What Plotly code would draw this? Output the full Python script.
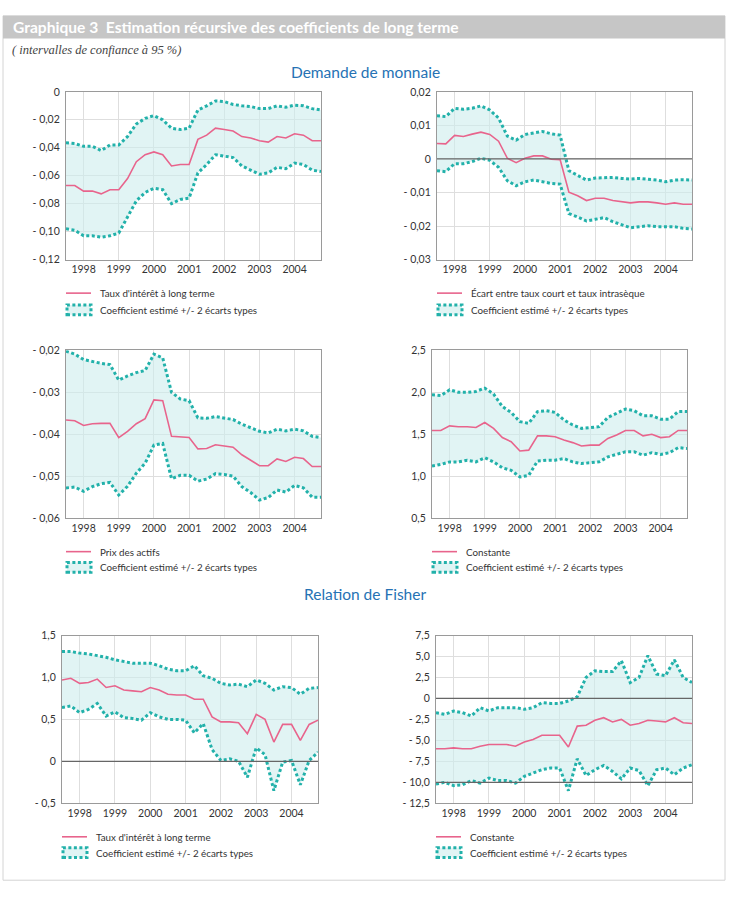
import plotly.graph_objects as go

W, H = 732, 902

QUARTERS = [1997.50, 1997.75, 1998.00, 1998.25, 1998.50, 1998.75, 1999.00, 1999.25,
            1999.50, 1999.75, 2000.00, 2000.25, 2000.50, 2000.75, 2001.00, 2001.25,
            2001.50, 2001.75, 2002.00, 2002.25, 2002.50, 2002.75, 2003.00, 2003.25,
            2003.50, 2003.75, 2004.00, 2004.25, 2004.50, 2004.75]
YEARS = [1998, 1999, 2000, 2001, 2002, 2003, 2004]

# Panel 1 : Taux d'intérêt à long terme (demande de monnaie)
p1_coef = [-0.067, -0.067, -0.071, -0.071, -0.073, -0.070, -0.070, -0.062, -0.050, -0.045,
           -0.043, -0.045, -0.053, -0.052, -0.052, -0.034, -0.031, -0.026, -0.027, -0.028,
           -0.032, -0.033, -0.035, -0.036, -0.032, -0.033, -0.030, -0.031, -0.035, -0.035]
p1_up = [-0.0365, -0.037, -0.039, -0.039, -0.042, -0.038, -0.038, -0.032, -0.023, -0.019,
         -0.017, -0.020, -0.026, -0.027, -0.026, -0.013, -0.010, -0.0065, -0.007, -0.009,
         -0.010, -0.0105, -0.012, -0.012, -0.010, -0.011, -0.0095, -0.010, -0.012, -0.013]
p1_lo = [-0.098, -0.099, -0.103, -0.103, -0.104, -0.103, -0.101, -0.089, -0.078, -0.072,
         -0.069, -0.070, -0.080, -0.077, -0.076, -0.058, -0.052, -0.045, -0.046, -0.047,
         -0.053, -0.056, -0.059, -0.058, -0.054, -0.055, -0.051, -0.052, -0.056, -0.057]

# Panel 2 : Écart entre taux court et taux intrasèque
p2_coef = [0.0046, 0.0045, 0.0070, 0.0067, 0.0074, 0.0080, 0.0073, 0.0053, 0.0002, -0.0011,
           0.0002, 0.0009, 0.0009, -0.0001, -0.0002, -0.0099, -0.0110, -0.0124, -0.0117, -0.0117,
           -0.0124, -0.0128, -0.0131, -0.0128, -0.0128, -0.0131, -0.0135, -0.0131, -0.0135, -0.0135]
p2_up = [0.0129, 0.0126, 0.0151, 0.0148, 0.0151, 0.0158, 0.0146, 0.0122, 0.0068, 0.0056,
         0.0073, 0.0077, 0.0082, 0.0075, 0.0071, -0.0035, -0.0050, -0.0063, -0.0057, -0.0055,
         -0.0055, -0.0058, -0.0060, -0.0058, -0.0060, -0.0063, -0.0068, -0.0063, -0.0062, -0.0063]
p2_lo = [-0.0035, -0.0038, -0.0014, -0.0014, -0.0008, 0.0002, -0.0004, -0.0025, -0.0065, -0.0080,
         -0.0068, -0.0063, -0.0068, -0.0073, -0.0075, -0.0163, -0.0173, -0.0185, -0.0180, -0.0175,
         -0.0187, -0.0197, -0.0205, -0.0202, -0.0199, -0.0202, -0.0202, -0.0202, -0.0207, -0.0209]

# Panel 3 : Prix des actifs
p3_coef = [-0.0366, -0.0368, -0.0379, -0.0375, -0.0374, -0.0374, -0.0408, -0.0393, -0.0375, -0.0363,
           -0.0318, -0.0320, -0.0405, -0.0407, -0.0408, -0.0435, -0.0434, -0.0425, -0.0428, -0.0431,
           -0.0449, -0.0461, -0.0475, -0.0475, -0.0459, -0.0465, -0.0455, -0.0458, -0.0477, -0.0477]
p3_up = [-0.0202, -0.0209, -0.0222, -0.0227, -0.0231, -0.0234, -0.0271, -0.0261, -0.0253, -0.0248,
         -0.0209, -0.0218, -0.0300, -0.0316, -0.0320, -0.0361, -0.0362, -0.0358, -0.0361, -0.0365,
         -0.0376, -0.0384, -0.0393, -0.0397, -0.0388, -0.0392, -0.0388, -0.0392, -0.0405, -0.0408]
p3_lo = [-0.0528, -0.0526, -0.0536, -0.0525, -0.0518, -0.0515, -0.0545, -0.0524, -0.0493, -0.0469,
         -0.0426, -0.0422, -0.0506, -0.0498, -0.0498, -0.0512, -0.0507, -0.0494, -0.0496, -0.0500,
         -0.0525, -0.0539, -0.0557, -0.0551, -0.0533, -0.0538, -0.0522, -0.0528, -0.0550, -0.0550]

# Panel 4 : Constante (demande de monnaie)
p4_coef = [1.545, 1.545, 1.60, 1.59, 1.59, 1.58, 1.64, 1.57, 1.46, 1.41,
           1.30, 1.31, 1.48, 1.48, 1.47, 1.43, 1.40, 1.36, 1.37, 1.37,
           1.45, 1.49, 1.545, 1.545, 1.48, 1.50, 1.46, 1.47, 1.545, 1.545]
p4_up = [1.97, 1.96, 2.03, 2.00, 2.00, 2.01, 2.05, 1.98, 1.83, 1.76,
         1.65, 1.63, 1.77, 1.78, 1.76, 1.67, 1.61, 1.57, 1.58, 1.59,
         1.70, 1.75, 1.80, 1.78, 1.72, 1.72, 1.68, 1.68, 1.77, 1.77]
p4_lo = [1.12, 1.14, 1.17, 1.17, 1.19, 1.17, 1.22, 1.17, 1.10, 1.07,
         0.99, 1.01, 1.18, 1.19, 1.19, 1.21, 1.17, 1.15, 1.16, 1.17,
         1.23, 1.26, 1.29, 1.29, 1.25, 1.28, 1.26, 1.28, 1.34, 1.33]

# Panel 5 : Taux d'intérêt à long terme (relation de Fisher)
p5_coef = [0.97, 0.99, 0.93, 0.94, 0.98, 0.88, 0.90, 0.85, 0.84, 0.83,
           0.88, 0.85, 0.80, 0.79, 0.79, 0.74, 0.74, 0.53, 0.47, 0.47,
           0.46, 0.33, 0.56, 0.50, 0.23, 0.44, 0.44, 0.25, 0.44, 0.49]
p5_up = [1.31, 1.31, 1.29, 1.28, 1.26, 1.24, 1.21, 1.19, 1.17, 1.17,
         1.17, 1.14, 1.10, 1.08, 1.08, 1.14, 1.02, 0.99, 0.93, 0.91,
         0.92, 0.89, 0.97, 0.93, 0.85, 0.89, 0.88, 0.80, 0.87, 0.88]
p5_lo = [0.64, 0.66, 0.58, 0.62, 0.69, 0.54, 0.59, 0.52, 0.51, 0.49,
         0.58, 0.53, 0.50, 0.50, 0.49, 0.34, 0.45, 0.14, 0.01, 0.03,
         0.00, -0.19, 0.16, 0.08, -0.35, -0.01, 0.01, -0.28, 0.01, 0.11]

# Panel 6 : Constante (relation de Fisher)
p6_coef = [-6.0, -6.0, -5.9, -6.0, -6.0, -5.7, -5.5, -5.5, -5.5, -5.7,
           -5.2, -4.9, -4.4, -4.4, -4.4, -5.8, -3.3, -3.2, -2.6, -2.3,
           -2.8, -2.5, -3.2, -3.0, -2.6, -2.7, -2.8, -2.3, -2.9, -3.0]
p6_up = [-1.7, -1.9, -1.5, -1.7, -2.1, -1.1, -1.5, -1.1, -1.1, -1.1,
         -1.3, -1.1, -0.5, -0.6, -0.6, -0.3, 0.2, 2.5, 3.3, 3.2,
         3.2, 4.5, 1.9, 2.5, 5.1, 2.9, 2.7, 4.6, 2.5, 1.9]
p6_lo = [-10.2, -10.0, -10.4, -10.3, -9.8, -10.1, -9.5, -9.8, -9.8, -10.1,
         -9.3, -8.9, -8.5, -8.3, -8.3, -11.0, -7.2, -9.2, -8.5, -8.0,
         -8.7, -9.6, -8.3, -8.6, -10.4, -8.5, -8.3, -9.1, -8.3, -7.9]

LEGEND_COEF = ["Taux d'intérêt à long terme", "Écart entre taux court et taux intrasèque",
               "Prix des actifs", "Constante", "Taux d'intérêt à long terme", "Constante"]
LEGEND_BAND = "Coefficient estimé +/- 2 écarts types"

Y_TICKS = [
    ([0, -0.02, -0.04, -0.06, -0.08, -0.10, -0.12],
     ["0", "- 0,02", "- 0,04", "- 0,06", "- 0,08", "- 0,10", "- 0,12"]),
    ([0.02, 0.01, 0, -0.01, -0.02, -0.03],
     ["0,02", "0,01", "0", "- 0,01", "- 0,02", "- 0,03"]),
    ([-0.02, -0.03, -0.04, -0.05, -0.06],
     ["- 0,02", "- 0,03", "- 0,04", "- 0,05", "- 0,06"]),
    ([2.5, 2.0, 1.5, 1.0, 0.5], ["2,5", "2,0", "1,5", "1,0", "0,5"]),
    ([1.5, 1.0, 0.5, 0, -0.5], ["1,5", "1,0", "0,5", "0", "- 0,5"]),
    ([7.5, 5.0, 2.5, 0, -2.5, -5.0, -7.5, -10.0, -12.5],
     ["7,5", "5,0", "2,5", "0", "- 2,5", "- 5,0", "- 7,5", "- 10,0", "- 12,5"]),
]
Y_RANGES = [(-0.12, 0), (-0.03, 0.02), (-0.06, -0.02), (0.5, 2.5), (-0.5, 1.5), (-12.5, 7.5)]
REF_LINES = [[], [0], [], [], [0], [0, -10]]

PANELS = [
    (p1_coef, p1_up, p1_lo),
    (p2_coef, p2_up, p2_lo),
    (p3_coef, p3_up, p3_lo),
    (p4_coef, p4_up, p4_lo),
    (p5_coef, p5_up, p5_lo),
    (p6_coef, p6_up, p6_lo),
]

# plot areas in pixels (x0, x1, y0, y1) ; legend y rows
BOXES = [(66, 321, 87, 257), (437, 692, 87, 257),
         (66, 321, 349, 519), (432, 687, 349, 519),
         (62, 318, 638, 808), (436, 692, 638, 808)]
LEG_Y = [(291, 308), (291, 308), (553, 569), (553, 569), (842, 858), (842, 858)]

PINK = "#e8648c"
TEAL = "#22b1aa"
FILL = "rgba(205,236,236,0.6)"
FONT = "Lato"

def px(x):
    return x / W

def py(y):
    return 1 - y / H

fig = go.Figure()
shapes = []
annotations = []

# outer frame and title bar
shapes.append(dict(type="rect", xref="paper", yref="paper", x0=px(3), x1=px(725),
                   y0=py(886), y1=py(10), line=dict(color="#d4d4d4", width=1),
                   fillcolor="rgba(0,0,0,0)", layer="below"))
shapes.append(dict(type="rect", xref="paper", yref="paper", x0=px(3), x1=px(725),
                   y0=py(33), y1=py(10), line=dict(width=0), fillcolor="#c6c6c6", layer="below"))
annotations.append(dict(xref="paper", yref="paper", x=px(11), y=py(21.5), xanchor="left",
                        yanchor="middle", showarrow=False,
                        text="<b>Graphique 3  Estimation récursive des coefficients de long terme</b>",
                        font=dict(family=FONT, size=15.6, color="white")))
annotations.append(dict(xref="paper", yref="paper", x=px(10), y=py(45), xanchor="left",
                        yanchor="middle", showarrow=False,
                        text="<i>( intervalles de confiance à 95 %)</i>",
                        font=dict(family="Liberation Serif", size=12.5, color="#444")))
for txt, yy in [("Demande de monnaie", 67), ("Relation de Fisher", 596)]:
    annotations.append(dict(xref="paper", yref="paper", x=px(365), y=py(yy), xanchor="center",
                            yanchor="middle", showarrow=False, text=txt,
                            font=dict(family=FONT, size=15.5, color="#2672b4")))

for i, ((coef, up, lo), (x0, x1, y0, y1)) in enumerate(zip(PANELS, BOXES)):
    k = i + 1
    xa = "x" if k == 1 else f"x{k}"
    ya = "y" if k == 1 else f"y{k}"
    fig.add_trace(go.Scatter(x=QUARTERS, y=up, mode="lines", xaxis=xa, yaxis=ya,
                             line=dict(color=TEAL, width=3, dash="3px,2.5px"),
                             showlegend=False, hoverinfo="skip"))
    fig.add_trace(go.Scatter(x=QUARTERS, y=lo, mode="lines", xaxis=xa, yaxis=ya,
                             fill="tonexty", fillcolor=FILL,
                             line=dict(color=TEAL, width=3, dash="3px,2.5px"),
                             showlegend=False, hoverinfo="skip"))
    fig.add_trace(go.Scatter(x=QUARTERS, y=coef, mode="lines", xaxis=xa, yaxis=ya,
                             line=dict(color=PINK, width=1.6), showlegend=False,
                             hoverinfo="skip"))
    tv, tt = Y_TICKS[i]
    axis_common = dict(showgrid=True, gridcolor="#dedede", gridwidth=1.3, zeroline=False,
                       showline=True, linecolor="#9a9a9a", linewidth=1.2, mirror=True,
                       ticks="", tickfont=dict(family=FONT, size=10.5, color="#333"))
    fig.update_layout(**{
        ("xaxis" if k == 1 else f"xaxis{k}"): dict(
            domain=[px(x0), px(x1)], anchor=ya, range=[1997.5, 2004.75],
            tickvals=YEARS, ticktext=[str(y) for y in YEARS], ticklabelstandoff=0,
            **axis_common),
        ("yaxis" if k == 1 else f"yaxis{k}"): dict(
            domain=[py(y1), py(y0)], anchor=xa, range=list(Y_RANGES[i]),
            tickvals=tv, ticktext=tt, ticklabelstandoff=3, **axis_common),
    })
    for v in REF_LINES[i]:
        shapes.append(dict(type="line", xref=f"{xa} domain", yref=ya, x0=0, x1=1, y0=v, y1=v,
                           line=dict(color="#666", width=1.2)))
    # legend
    ly1, ly2 = LEG_Y[i]
    shapes.append(dict(type="line", xref="paper", yref="paper", x0=px(x0), x1=px(x0 + 25),
                       y0=py(ly1), y1=py(ly1), line=dict(color=PINK, width=1.6)))
    shapes.append(dict(type="rect", xref="paper", yref="paper", x0=px(x0 + 1), x1=px(x0 + 25),
                       y0=py(ly2 + 5), y1=py(ly2 - 5), fillcolor=FILL,
                       line=dict(color=TEAL, width=3, dash="3px,2.5px")))
    for txt, ly in [(LEGEND_COEF[i], ly1), (LEGEND_BAND, ly2)]:
        annotations.append(dict(xref="paper", yref="paper", x=px(x0 + 32), y=py(ly),
                                xanchor="left", yanchor="middle", showarrow=False, text=txt,
                                font=dict(family=FONT, size=9.8, color="#333")))

fig.update_layout(width=W, height=H, margin=dict(l=0, r=0, t=0, b=0),
                  paper_bgcolor="white", plot_bgcolor="white",
                  shapes=shapes, annotations=annotations, showlegend=False)

fig.write_html("out.html")
